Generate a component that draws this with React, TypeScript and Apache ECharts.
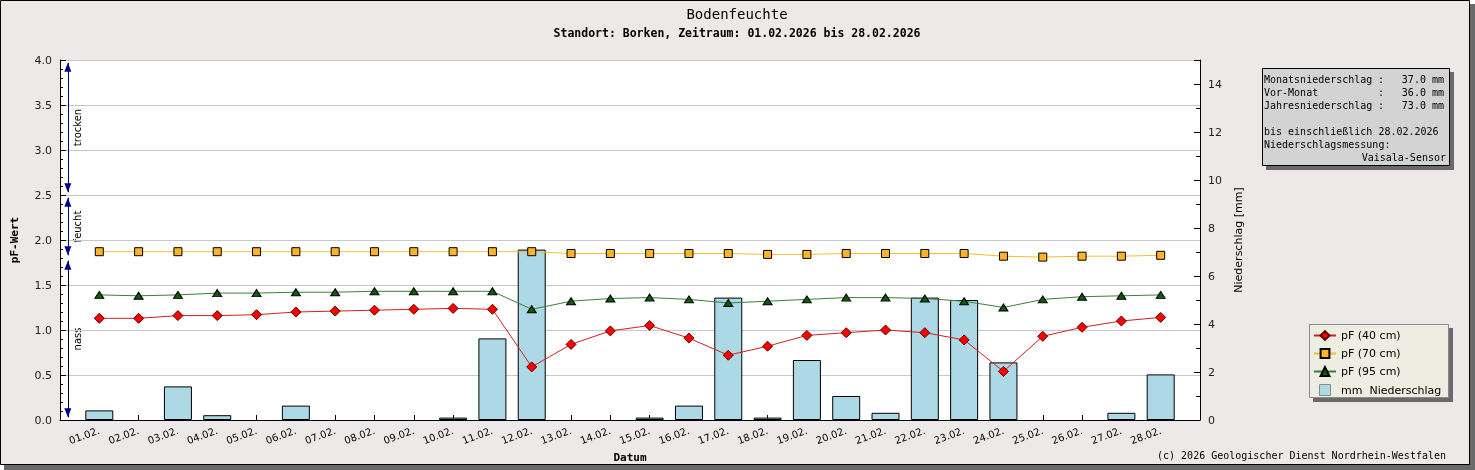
import React, { useEffect, useRef } from 'react';
import * as echarts from 'echarts';

const dates = ['01.02.', '02.02.', '03.02.', '04.02.', '05.02.', '06.02.', '07.02.', '08.02.', '09.02.', '10.02.', '11.02.', '12.02.', '13.02.', '14.02.', '15.02.', '16.02.', '17.02.', '18.02.', '19.02.', '20.02.', '21.02.', '22.02.', '23.02.', '24.02.', '25.02.', '26.02.', '27.02.', '28.02.'];
const pf40 = [1.13, 1.13, 1.16, 1.16, 1.17, 1.2, 1.21, 1.22, 1.23, 1.24, 1.23, 0.59, 0.84, 0.99, 1.05, 0.91, 0.72, 0.82, 0.94, 0.97, 1.0, 0.97, 0.89, 0.54, 0.93, 1.03, 1.1, 1.14];
const pf70 = [1.87, 1.87, 1.87, 1.87, 1.87, 1.87, 1.87, 1.87, 1.87, 1.87, 1.87, 1.87, 1.85, 1.85, 1.85, 1.85, 1.85, 1.84, 1.84, 1.85, 1.85, 1.85, 1.85, 1.82, 1.81, 1.82, 1.82, 1.83];
const pf95 = [1.39, 1.38, 1.39, 1.41, 1.41, 1.42, 1.42, 1.43, 1.43, 1.43, 1.43, 1.23, 1.32, 1.35, 1.36, 1.34, 1.3, 1.32, 1.34, 1.36, 1.36, 1.35, 1.32, 1.25, 1.34, 1.37, 1.38, 1.39];
const rain = [0.4, 0, 1.4, 0.2, 0, 0.6, 0, 0, 0, 0.1, 3.4, 7.1, 0, 0, 0.1, 0.6, 5.1, 0.1, 2.5, 1.0, 0.3, 5.1, 5.0, 2.4, 0, 0, 0.3, 1.9];

const zones = [
  { name: 'trocken', from: 2.5, to: 4.0, line: '#00008B' },
  { name: 'feucht', from: 1.8, to: 2.5, line: '#00008B' },
  { name: 'nass', from: 0, to: 1.8, line: '#000000' },
];

const infoRows = [
  { label: 'Monatsniederschlag', value: '37.0 mm' },
  { label: 'Vor-Monat', value: '36.0 mm' },
  { label: 'Jahresniederschlag', value: '73.0 mm' },
];
const infoNotes = ['bis einschließlich 28.02.2026', 'Niederschlagsmessung:'];
const infoSensor = 'Vaisala-Sensor';

const seriesNames = ['pF (40 cm)', 'pF (70 cm)', 'pF (95 cm)', 'mm  Niederschlag'];
const titleText = 'Bodenfeuchte';
const subtitleText = 'Standort: Borken, Zeitraum: 01.02.2026 bis 28.02.2026';
const copyright = '(c) 2026 Geologischer Dienst Nordrhein-Westfalen';

const GRID_LEFT = 60;
const GRID_TOP = 60;
const GRID_W = 1140;
const GRID_H = 360;
const PF_MAX = 4;
const MONO = 'DejaVu Sans Mono';
const SANS = 'DejaVu Sans';
const NAVY = '#00008B';

function pfToY(v: number) {
  return GRID_TOP + (1 - v / PF_MAX) * GRID_H;
}

export default function App() {
  const ref = useRef<HTMLDivElement>(null);
  useEffect(() => {
    const chart = echarts.init(ref.current!, null, { renderer: 'svg' });
    const ANN_X = 0.2;
    const gap = 0.03;
    const arrowHalf = 0.05;
    const markLineData = zones.map((z) => [
      { coord: [ANN_X, z.from + gap], lineStyle: { color: z.line, width: 1, type: 'solid' } },
      { coord: [ANN_X, z.to - gap] },
    ]);
    const markPointData: any[] = [];
    zones.forEach((z) => {
      markPointData.push({ coord: [ANN_X, z.to - gap - arrowHalf], symbolRotate: 0 });
      markPointData.push({ coord: [ANN_X, z.from + gap + arrowHalf], symbolRotate: 180 });
    });

    const graphic: any[] = [
      { type: 'rect', z: -100, silent: true, shape: { x: 4, y: 4, width: 1471, height: 466 }, style: { fill: '#6A6A6A' } },
      { type: 'rect', z: -99, silent: true, shape: { x: 0.5, y: 0.5, width: 1469, height: 464 }, style: { fill: '#ECE9E8', stroke: '#000', lineWidth: 1 } },
      { type: 'text', x: 737, y: 14, style: { text: titleText, font: `normal 14px "${MONO}"`, fill: '#000', align: 'center', verticalAlign: 'middle' } },
      { type: 'text', x: 737, y: 33, style: { text: subtitleText, font: `bold 11.5px "${MONO}"`, fill: '#000', align: 'center', verticalAlign: 'middle' } },
      { type: 'text', x: 1446, y: 455, style: { text: copyright, font: `normal 10px "${MONO}"`, fill: '#000', align: 'right', verticalAlign: 'middle' } },
      // info box
      { type: 'rect', silent: true, shape: { x: 1266, y: 72, width: 188, height: 98 }, style: { fill: '#6A6A6A' } },
      { type: 'rect', silent: true, shape: { x: 1262.5, y: 68.5, width: 187, height: 97 }, style: { fill: '#D3D3D3', stroke: '#000', lineWidth: 1 } },
      // legend box
      { type: 'rect', silent: true, shape: { x: 1313, y: 328, width: 140, height: 74 }, style: { fill: '#6A6A6A' } },
      { type: 'rect', silent: true, shape: { x: 1309.5, y: 324.5, width: 139, height: 73 }, style: { fill: '#EDEDE1', stroke: '#8A8A8A', lineWidth: 1 } },
    ];
    const infoFont = `normal 10px "${MONO}"`;
    infoRows.forEach((r, i) => {
      const y = 79 + i * 13;
      graphic.push({ type: 'text', x: 1264, y, style: { text: r.label, font: infoFont, fill: '#000', verticalAlign: 'middle' } });
      graphic.push({ type: 'text', x: 1378, y, style: { text: ':', font: infoFont, fill: '#000', verticalAlign: 'middle' } });
      graphic.push({ type: 'text', x: 1444, y, style: { text: r.value, font: infoFont, fill: '#000', align: 'right', verticalAlign: 'middle' } });
    });
    infoNotes.forEach((t, i) => {
      graphic.push({ type: 'text', x: 1264, y: 131 + i * 13, style: { text: t, font: infoFont, fill: '#000', verticalAlign: 'middle' } });
    });
    graphic.push({ type: 'text', x: 1446, y: 157, style: { text: infoSensor, font: infoFont, fill: '#000', align: 'right', verticalAlign: 'middle' } });
    zones.forEach((z) => {
      graphic.push({
        type: 'text',
        x: 77,
        y: pfToY((z.from + z.to) / 2),
        rotation: Math.PI / 2,
        style: { text: z.name, font: `normal 10px "${SANS}"`, fill: '#000', align: 'center', verticalAlign: 'middle' },
      });
    });

    const squarePath = 'path://M0,0L10,0L10,10L0,10Z';

    const option: any = {
      animation: false,
      textStyle: { fontFamily: SANS },
      grid: { left: GRID_LEFT, top: GRID_TOP, width: GRID_W, height: GRID_H, show: true, backgroundColor: '#fff', borderWidth: 0 },
      legend: {
        orient: 'vertical',
        left: 1313,
        top: 330,
        padding: 0,
        itemWidth: 22,
        itemHeight: 11,
        itemGap: 7,
        symbolKeepAspect: true,
        data: [
          { name: seriesNames[0] },
          { name: seriesNames[1] },
          { name: seriesNames[2] },
          { name: seriesNames[3], icon: squarePath, itemStyle: { color: '#ADD8E6', borderColor: '#8A8A8A', borderWidth: 1 } },
        ],
        textStyle: { fontFamily: SANS, fontSize: 11, color: '#000' },
      },
      xAxis: {
        type: 'value',
        min: 0,
        max: 29,
        interval: 1,
        name: 'Datum',
        nameLocation: 'middle',
        nameGap: 32,
        nameTextStyle: { fontFamily: MONO, fontWeight: 'bold', fontSize: 11, color: '#000' },
        axisLine: { show: true, onZero: false, lineStyle: { color: '#000', width: 1 } },
        axisTick: { show: true, inside: true, length: 5, lineStyle: { color: '#000' } },
        splitLine: { show: false },
        axisLabel: {
          rotate: 20,
          margin: 10,
          fontSize: 10,
          color: '#000',
          fontFamily: SANS,
          formatter: (v: number) => (v >= 1 && v <= dates.length ? dates[v - 1] : ''),
        },
      },
      yAxis: [
        {
          type: 'value',
          min: 0,
          max: 4,
          interval: 0.5,
          name: 'pF-Wert',
          nameLocation: 'middle',
          nameGap: 40,
          nameTextStyle: { fontFamily: MONO, fontWeight: 'bold', fontSize: 11, color: '#000' },
          axisLine: { show: true, lineStyle: { color: '#000' } },
          axisTick: { show: true, inside: true, length: 6, lineStyle: { color: '#000' } },
          minorTick: { show: true, splitNumber: 5, length: 3, lineStyle: { color: '#000' } },
          splitLine: { show: true, lineStyle: { color: '#C8C8C8', width: 1 } },
          axisLabel: { fontSize: 11, color: '#222', formatter: (v: number) => v.toFixed(1) },
        },
        {
          type: 'value',
          min: 0,
          max: 15,
          interval: 2,
          position: 'right',
          name: 'Niederschlag [mm]',
          nameLocation: 'middle',
          nameGap: 32,
          nameTextStyle: { fontFamily: SANS, fontSize: 11, color: '#000' },
          axisLine: { show: true, lineStyle: { color: '#000' } },
          axisTick: { show: true, inside: true, length: 6, lineStyle: { color: '#000' } },
          minorTick: { show: true, splitNumber: 2, length: 4, lineStyle: { color: '#000' } },
          splitLine: { show: false },
          axisLabel: { fontSize: 11, color: '#222', showMaxLabel: false, formatter: (v: number) => (v % 2 === 0 ? String(v) : '') },
        },
      ],
      graphic,
      series: [
        {
          name: seriesNames[3],
          type: 'bar',
          yAxisIndex: 1,
          barWidth: 28,
          data: rain.map((v, i) => [i + 1, v > 0 ? v : '-']),
          itemStyle: { color: '#ADD8E6', borderColor: '#000', borderWidth: 1 },
        },
        {
          name: seriesNames[0],
          type: 'line',
          yAxisIndex: 0,
          data: pf40.map((v, i) => [i + 1, v]),
          symbol: 'diamond',
          symbolSize: [10, 10],
          itemStyle: { color: '#FF0000', borderColor: '#5A0000', borderWidth: 1 },
          lineStyle: { color: '#D02020', width: 1 },
          markLine: {
            silent: true,
            symbol: 'none',
            label: { show: false },
            emphasis: { disabled: true },
            data: markLineData,
          },
          markPoint: {
            silent: true,
            symbol: 'triangle',
            symbolSize: [7, 9],
            label: { show: false },
            itemStyle: { color: NAVY, borderWidth: 0 },
            data: markPointData,
          },
        },
        {
          name: seriesNames[1],
          type: 'line',
          yAxisIndex: 0,
          data: pf70.map((v, i) => [i + 1, v]),
          symbol: 'rect',
          symbolSize: 8,
          itemStyle: { color: '#FFB428', borderColor: '#000', borderWidth: 1 },
          lineStyle: { color: '#F0C030', width: 1 },
        },
        {
          name: seriesNames[2],
          type: 'line',
          yAxisIndex: 0,
          data: pf95.map((v, i) => [i + 1, v]),
          symbol: 'triangle',
          symbolSize: [9, 7],
          itemStyle: { color: '#0E5A0E', borderColor: '#000', borderWidth: 1 },
          lineStyle: { color: '#3A7F3A', width: 1 },
        },
      ],
    };
    chart.setOption(option);
    return () => chart.dispose();
  }, []);
  return <div ref={ref} style={{ position: 'fixed', left: 0, top: 0, width: 1475, height: 470 }} />;
}
